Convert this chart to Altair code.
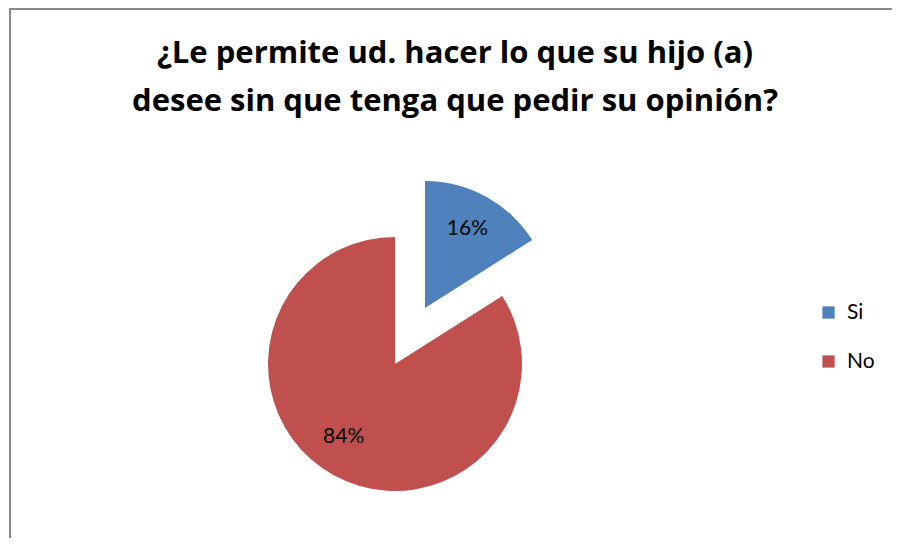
import altair as alt
import pandas as pd

categories = ["Si", "No"]
values = [16, 84]
labels = ["16%", "84%"]
colors = ["#4F81BD", "#C0504D"]
title_lines = ["¿Le permite ud. hacer lo que su hijo (a)",
               "desee sin que tenga que pedir su opinión?"]

df = pd.DataFrame({"cat": categories, "val": values, "lab": labels,
                   "order": list(range(len(categories)))})
tdf = pd.DataFrame({"line": title_lines, "i": list(range(len(title_lines)))})

FONT = "Lato"
TFONT = "Open Sans"
CX, CY, R = 387, 226, 127

color = alt.Color("cat:N", scale=alt.Scale(domain=categories, range=colors),
                  legend=alt.Legend(title=None, orient="none", legendX=810, legendY=164,
                                    symbolType="square", symbolSize=150, symbolStrokeWidth=0,
                                    labelFont=FONT, labelFontSize=21, labelColor="#000",
                                    rowPadding=27, labelOffset=8))

base = alt.Chart(df).transform_stack(
    stack="val", groupby=[], as_=["v0", "v1"], sort=[alt.SortField("order")]
).transform_calculate(mid="(datum.v0 + datum.v1) / 2")

theta = alt.Theta("v0:Q", scale=alt.Scale(domain=[0, 100]))
theta2 = alt.Theta2("v1:Q")

red = base.transform_filter(alt.datum.cat == "No").mark_arc(
    radius=R, x=CX, y=CY).encode(theta=theta, theta2=theta2, color=color)
blue = base.transform_filter(alt.datum.cat == "Si").mark_arc(
    radius=R, x=CX, y=CY, xOffset=30, yOffset=-56).encode(theta=theta, theta2=theta2, color=color)

txt_no = base.transform_filter(alt.datum.cat == "No").mark_text(
    radius=90, x=CX, y=CY, font=FONT, fontSize=21, color="#000", xOffset=-8, yOffset=-6
).encode(theta=alt.Theta("mid:Q", scale=alt.Scale(domain=[0, 100])), text="lab:N")
txt_si = base.transform_filter(alt.datum.cat == "Si").mark_text(
    radius=88, x=CX, y=CY, font=FONT, fontSize=21, color="#000", xOffset=30, yOffset=-58
).encode(theta=alt.Theta("mid:Q", scale=alt.Scale(domain=[0, 100])), text="lab:N")

title = alt.Chart(tdf).mark_text(
    font=TFONT, fontSize=31, fontWeight="bold", color="#000", baseline="middle", align="center"
).encode(
    x=alt.value(447),
    y=alt.Y("i:Q", scale=alt.Scale(domain=[0, 1], range=[-84, -36]), axis=None),
    text="line:N",
)

border = alt.Chart(df).mark_rule(color="#888888", strokeWidth=2)
left = border.encode(x=alt.value(2), y=alt.value(-130), y2=alt.value(420))
top = border.encode(x=alt.value(2), x2=alt.value(900), y=alt.value(-129))

chart = alt.layer(left, top, red, blue, txt_no, txt_si, title).resolve_scale(
    y="independent"
).properties(
    width=884, height=400,
    padding={"left": 0, "top": 130, "right": 0, "bottom": 0},
    autosize=alt.AutoSizeParams(type="none"),
).configure_view(stroke=None)

chart.save("out.html", embed_options={"renderer": "svg", "actions": False})
